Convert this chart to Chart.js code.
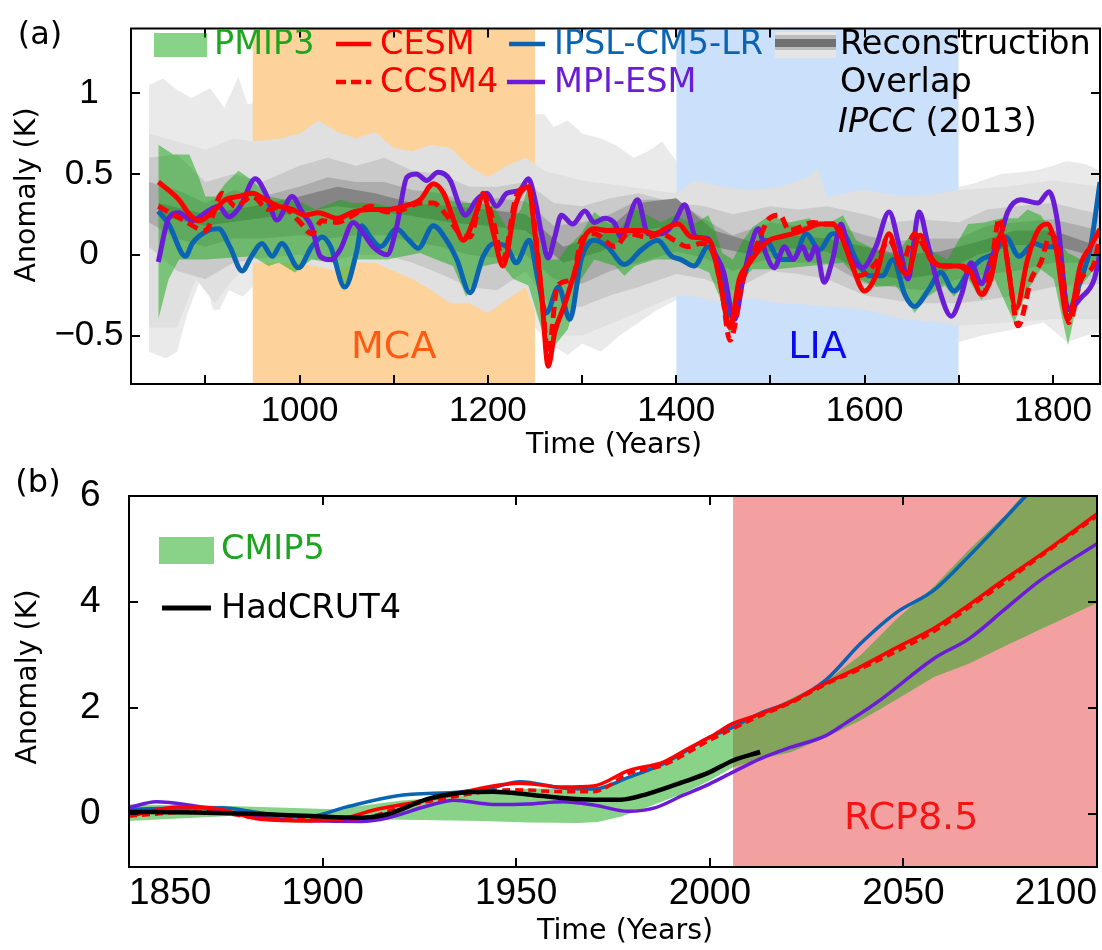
<!DOCTYPE html>
<html><head><meta charset="utf-8"><title>Temperature anomaly</title>
<script src="https://cdn.jsdelivr.net/npm/chart.js@4.4.1/dist/chart.umd.min.js"></script>
<style>
html,body{margin:0;padding:0;background:#fff;}
#wrap{position:relative;width:1102px;height:950px;overflow:hidden;background:#fff;}
#ca{position:absolute;left:0;top:0;}
#cb{position:absolute;left:0;top:440px;}
</style></head><body>
<div id="wrap"><canvas id="ca" width="1102" height="470"></canvas><canvas id="cb" width="1102" height="510"></canvas></div>
<script>
const FONT = "'Liberation Sans', Arial, Helvetica, sans-serif";
const TFONT = "'DejaVu Sans', 'Liberation Sans', Arial, sans-serif";

// ---------------- Panel (a): last millennium ----------------
const xLimA = [821, 1850];
const yLimA = [-0.8, 1.4];
const xTickMarksA = [900, 1000, 1100, 1200, 1300, 1400, 1500, 1600, 1700, 1800];
const xTickLabelsA = [1000, 1200, 1400, 1600, 1800];
const yTicksA = [-0.5, 0, 0.5, 1];
const mcaSpan = [950, 1250];
const liaSpan = [1400, 1700];
const seriesNamesA = ['PMIP3', 'CESM', 'CCSM4', 'IPSL-CM5-LR', 'MPI-ESM'];

const cesmA = [[850,0.45],[861,0.40],[872,0.34],[883,0.25],[893,0.21],[907,0.26],[921,0.34],[935,0.36],[950,0.38],[964,0.34],[978,0.30],[992,0.28],[1006,0.245],[1020,0.26],[1040,0.225],[1057,0.265],[1075,0.28],[1093,0.28],[1110,0.30],[1128,0.34],[1142,0.44],[1153,0.38],[1163,0.225],[1174,0.09],[1184,0.20],[1195,0.36],[1206,0.13],[1216,-0.07],[1230,0.32],[1243,0.42],[1250,0.13],[1257,-0.245],[1264,-0.69],[1271,-0.48],[1282,-0.30],[1292,-0.11],[1303,0.11],[1313,0.16],[1327,0.15],[1345,0.15],[1363,0.15],[1377,0.13],[1391,0.17],[1402,0.19],[1416,0.11],[1435,0.09],[1446,-0.15],[1457,-0.45],[1467,-0.15],[1478,-0.05],[1488,0.03],[1499,0.09],[1510,0.11],[1524,0.13],[1538,0.16],[1552,0.19],[1566,0.19],[1577,0.09],[1587,-0.07],[1600,-0.225],[1612,-0.13],[1626,0.13],[1637,-0.07],[1645,-0.12],[1659,0.12],[1670,-0.03],[1688,-0.07],[1703,-0.07],[1713,-0.11],[1724,-0.245],[1734,-0.15],[1745,0.13],[1761,-0.33],[1773,-0.03],[1784,0.15],[1794,0.19],[1803,0.05],[1816,-0.40],[1830,-0.05],[1840,0.05],[1850,0.16]];

const ccsm4A = [[850,0.30],[875,0.22],[900,0.15],[918,0.38],[932,0.30],[950,0.36],[967,0.28],[981,0.30],[999,0.21],[1013,0.13],[1024,0.21],[1040,0.20],[1057,0.245],[1075,0.30],[1093,0.265],[1110,0.28],[1128,0.32],[1142,0.32],[1156,0.245],[1170,0.13],[1181,0.11],[1195,0.38],[1206,0.20],[1216,-0.03],[1230,0.36],[1243,0.42],[1252,0.05],[1258,-0.30],[1264,-0.61],[1274,-0.19],[1290,-0.15],[1299,0.09],[1313,0.13],[1335,0.05],[1349,0.13],[1370,0.11],[1384,0.13],[1398,0.09],[1412,0.05],[1426,0.07],[1440,0.0],[1449,-0.25],[1457,-0.53],[1471,-0.15],[1485,0.05],[1499,0.225],[1510,0.245],[1520,0.15],[1531,0.17],[1545,0.20],[1559,0.19],[1570,0.19],[1580,0.05],[1594,-0.13],[1612,-0.05],[1626,0.09],[1640,-0.05],[1653,0.13],[1667,0.01],[1681,-0.07],[1699,-0.07],[1713,-0.13],[1726,-0.245],[1736,0.0],[1743,0.225],[1752,-0.05],[1763,-0.44],[1777,-0.15],[1787,-0.05],[1798,0.13],[1809,-0.05],[1817,-0.42],[1830,-0.15],[1844,-0.05],[1850,0.13]];

const ipslA = [[850,0.27],[861,0.19],[879,-0.01],[886,0.07],[903,0.15],[914,0.16],[926,0.05],[939,-0.10],[949,-0.01],[960,0.07],[971,-0.01],[981,0.07],[999,-0.08],[1013,0.05],[1024,0.11],[1033,0.05],[1048,-0.20],[1061,0.03],[1066,0.18],[1075,0.11],[1086,0.05],[1103,0.16],[1116,0.09],[1126,0.04],[1142,0.18],[1156,0.09],[1167,-0.03],[1181,-0.235],[1195,-0.01],[1206,0.07],[1220,0.05],[1230,-0.05],[1244,0.09],[1253,-0.15],[1262,-0.36],[1275,-0.20],[1287,-0.40],[1299,-0.03],[1313,0.09],[1327,0.05],[1345,-0.06],[1363,0.03],[1380,0.09],[1395,-0.01],[1405,-0.03],[1419,-0.07],[1434,0.05],[1446,-0.11],[1458,-0.38],[1471,-0.15],[1481,0.01],[1495,0.09],[1510,-0.03],[1524,-0.03],[1538,0.13],[1552,0.03],[1566,0.13],[1577,0.13],[1591,-0.03],[1605,-0.13],[1619,-0.13],[1630,-0.03],[1643,-0.25],[1653,-0.32],[1667,-0.225],[1681,-0.11],[1695,-0.225],[1710,-0.11],[1724,-0.03],[1738,0.01],[1750,0.11],[1764,-0.01],[1780,0.07],[1791,0.05],[1805,0.05],[1816,-0.34],[1830,-0.15],[1840,0.05],[1850,0.45]];

const mpiA = [[850,-0.045],[861,0.225],[872,0.26],[886,0.21],[900,0.26],[914,0.30],[925,0.235],[937,0.30],[953,0.47],[964,0.38],[976,0.215],[992,0.36],[1003,0.26],[1013,0.17],[1022,-0.01],[1033,-0.03],[1043,0.03],[1057,0.20],[1068,0.13],[1078,0.05],[1093,0.0],[1103,0.17],[1114,0.48],[1124,0.50],[1135,0.46],[1147,0.51],[1160,0.46],[1170,0.30],[1176,0.245],[1188,0.34],[1199,0.38],[1209,0.30],[1220,0.38],[1234,0.40],[1243,0.47],[1250,0.34],[1257,0.13],[1264,-0.02],[1271,0.11],[1278,0.245],[1290,0.19],[1303,0.27],[1313,0.20],[1324,0.225],[1335,0.19],[1341,0.11],[1359,0.34],[1370,0.13],[1384,0.13],[1398,0.20],[1409,0.31],[1421,0.11],[1434,0.10],[1441,0.01],[1450,-0.10],[1462,-0.40],[1471,-0.15],[1481,0.09],[1487,0.16],[1495,0.01],[1504,-0.08],[1515,0.05],[1524,-0.03],[1534,0.05],[1541,-0.03],[1548,0.05],[1557,-0.17],[1566,-0.03],[1575,0.19],[1584,0.01],[1598,-0.08],[1612,0.05],[1626,0.265],[1637,0.05],[1646,-0.15],[1658,0.265],[1667,0.07],[1678,-0.19],[1692,-0.38],[1703,-0.245],[1713,-0.05],[1724,-0.18],[1734,-0.03],[1745,0.13],[1752,0.265],[1766,0.34],[1784,0.32],[1796,0.39],[1805,0.20],[1816,-0.34],[1830,-0.265],[1844,-0.15],[1850,0.01]];

const pmipUpperA = [[850,0.68],[866,0.62],[883,0.62],[893,0.48],[900,0.36],[911,0.36],[921,0.44],[935,0.52],[950,0.46],[967,0.36],[985,0.34],[1003,0.32],[1017,0.28],[1043,0.34],[1057,0.32],[1078,0.32],[1093,0.30],[1121,0.30],[1142,0.44],[1156,0.34],[1174,0.32],[1191,0.32],[1206,0.30],[1220,0.17],[1235,0.28],[1243,0.42],[1250,0.17],[1257,0.05],[1264,-0.03],[1275,-0.03],[1285,0.05],[1299,0.13],[1313,0.265],[1327,0.20],[1341,0.17],[1356,0.28],[1370,0.245],[1384,0.20],[1398,0.245],[1419,0.19],[1434,0.245],[1440,0.17],[1449,0.01],[1460,-0.03],[1471,0.09],[1481,0.17],[1499,0.245],[1520,0.20],[1541,0.225],[1555,0.17],[1577,0.245],[1591,0.09],[1605,0.05],[1619,0.01],[1633,0.0],[1650,0.13],[1660,0.13],[1674,0.01],[1688,-0.03],[1710,0.19],[1727,0.20],[1745,0.225],[1763,0.225],[1773,0.28],[1787,0.245],[1801,0.13],[1816,0.01],[1830,-0.03],[1850,0.01]];
const pmipLowerA = [[850,-0.40],[861,-0.15],[872,-0.03],[900,-0.03],[950,-0.01],[967,-0.07],[978,-0.05],[995,-0.11],[1013,-0.03],[1036,-0.05],[1048,-0.19],[1061,-0.03],[1093,-0.03],[1128,0.01],[1145,-0.03],[1163,-0.07],[1177,-0.26],[1195,-0.07],[1213,-0.05],[1227,-0.15],[1243,-0.19],[1253,-0.38],[1264,-0.60],[1274,-0.54],[1285,-0.46],[1299,-0.15],[1313,-0.03],[1335,-0.07],[1345,-0.13],[1356,-0.07],[1377,-0.03],[1398,-0.03],[1419,-0.07],[1435,-0.11],[1446,-0.26],[1457,-0.50],[1471,-0.15],[1481,-0.09],[1506,-0.09],[1541,-0.07],[1577,-0.05],[1594,-0.15],[1612,-0.20],[1633,-0.19],[1647,-0.30],[1653,-0.36],[1667,-0.26],[1685,-0.19],[1695,-0.26],[1710,-0.15],[1724,-0.28],[1738,-0.15],[1759,-0.42],[1773,-0.22],[1787,-0.09],[1801,-0.15],[1816,-0.56],[1830,-0.19],[1844,-0.09],[1850,-0.05]];

// reconstruction overlap (IPCC 2013), grey levels from light to dark
const reconAUpper = [[840,1.05],[855,1.09],[870,1.02],[885,0.97],[905,1.03],[920,0.91],[935,1.10],[945,0.93],[960,0.95],[1100,0.90],[1240,0.87],[1260,0.87],[1270,0.79],[1285,0.83],[1300,0.75],[1320,0.72],[1335,0.68],[1355,0.60],[1370,0.64],[1385,0.70],[1400,0.58],[1550,0.60],[1690,0.45],[1700,0.42],[1715,0.44],[1745,0.50],[1780,0.52],[1800,0.55],[1815,0.58],[1835,0.56],[1850,0.52]];
const reconALower = [[840,-0.60],[858,-0.64],[870,-0.60],[880,-0.38],[893,-0.18],[900,-0.15],[908,-0.34],[915,-0.34],[925,-0.22],[940,-0.26],[950,-0.20],[1100,-0.40],[1250,-0.45],[1265,-0.55],[1285,-0.62],[1300,-0.55],[1320,-0.60],[1340,-0.50],[1360,-0.42],[1380,-0.34],[1400,-0.28],[1550,-0.35],[1700,-0.54],[1725,-0.50],[1760,-0.46],[1790,-0.42],[1815,-0.54],[1835,-0.50],[1850,-0.48]];
const reconBUpper = [[840,0.75],[870,0.70],[900,0.65],[930,0.72],[950,0.70],[980,0.72],[1000,0.75],[1020,0.83],[1040,0.76],[1060,0.72],[1080,0.76],[1100,0.66],[1120,0.64],[1140,0.68],[1160,0.66],[1180,0.55],[1200,0.48],[1220,0.55],[1240,0.60],[1260,0.52],[1300,0.46],[1350,0.42],[1400,0.38],[1420,0.46],[1450,0.42],[1480,0.40],[1510,0.42],[1540,0.48],[1550,0.54],[1560,0.36],[1600,0.40],[1640,0.36],[1680,0.38],[1700,0.40],[1750,0.42],[1800,0.46],[1850,0.42]];
const reconBLower = [[840,-0.45],[870,-0.45],[890,-0.15],[910,-0.30],[930,-0.15],[950,-0.05],[1000,-0.05],[1040,-0.10],[1060,-0.05],[1080,-0.05],[1100,-0.10],[1120,-0.15],[1140,-0.22],[1160,-0.30],[1180,-0.30],[1200,-0.36],[1220,-0.28],[1240,-0.20],[1260,-0.50],[1300,-0.50],[1350,-0.38],[1400,-0.25],[1420,-0.26],[1450,-0.30],[1480,-0.27],[1510,-0.30],[1540,-0.31],[1560,-0.32],[1600,-0.34],[1640,-0.40],[1680,-0.42],[1700,-0.44],[1750,-0.42],[1800,-0.40],[1850,-0.40]];
const reconCUpper = [[840,0.60],[870,0.62],[900,0.45],[930,0.50],[960,0.45],[1000,0.55],[1030,0.60],[1060,0.55],[1090,0.60],[1120,0.52],[1150,0.50],[1180,0.42],[1210,0.42],[1240,0.45],[1270,0.32],[1300,0.30],[1330,0.35],[1360,0.38],[1400,0.32],[1430,0.30],[1460,0.25],[1500,0.30],[1530,0.28],[1560,0.30],[1600,0.25],[1630,0.20],[1660,0.22],[1700,0.20],[1730,0.28],[1760,0.30],[1800,0.32],[1850,0.25]];
const reconCLower = [[840,0.05],[870,-0.10],[900,-0.15],[930,-0.05],[960,-0.02],[1000,0.0],[1030,-0.05],[1060,0.0],[1090,0.0],[1120,-0.05],[1150,-0.12],[1180,-0.20],[1210,-0.22],[1240,-0.10],[1270,-0.35],[1300,-0.32],[1330,-0.25],[1360,-0.20],[1400,-0.12],[1430,-0.15],[1460,-0.22],[1500,-0.10],[1530,-0.12],[1560,-0.15],[1600,-0.25],[1630,-0.28],[1660,-0.30],[1700,-0.30],[1730,-0.28],[1760,-0.25],[1800,-0.20],[1850,-0.18]];
const reconDUpper = [[840,0.45],[870,0.40],[900,0.32],[930,0.40],[960,0.36],[1000,0.42],[1030,0.48],[1060,0.45],[1090,0.45],[1120,0.40],[1150,0.38],[1180,0.32],[1210,0.35],[1240,0.33],[1270,0.18],[1300,0.20],[1330,0.25],[1360,0.34],[1400,0.34],[1430,0.22],[1460,0.12],[1500,0.20],[1530,0.18],[1560,0.20],[1600,0.12],[1630,0.08],[1660,0.10],[1700,0.10],[1730,0.18],[1760,0.20],[1800,0.22],[1850,0.15]];
const reconDLower = [[840,0.20],[870,0.10],[900,0.05],[930,0.10],[960,0.10],[1000,0.12],[1030,0.10],[1060,0.12],[1090,0.12],[1120,0.08],[1150,0.05],[1180,0.0],[1210,-0.02],[1240,0.0],[1270,-0.15],[1300,-0.18],[1330,-0.10],[1360,-0.05],[1400,0.02],[1430,-0.02],[1460,-0.10],[1500,-0.02],[1530,-0.05],[1560,-0.05],[1600,-0.18],[1630,-0.20],[1660,-0.22],[1700,-0.15],[1730,-0.12],[1760,-0.10],[1800,-0.05],[1850,-0.05]];
const reconEUpper = [[850,0.32],[900,0.25],[950,0.30],[1000,0.36],[1040,0.42],[1080,0.38],[1120,0.32],[1160,0.30],[1200,0.28],[1240,0.25],[1280,0.05],[1320,0.12],[1360,0.32],[1400,0.35],[1440,0.15],[1480,0.08],[1520,0.12],[1560,0.10],[1600,0.05],[1640,0.0],[1680,0.02],[1720,0.08],[1760,0.15],[1800,0.15],[1850,0.05]];
const reconELower = [[850,0.24],[900,0.18],[950,0.22],[1000,0.26],[1040,0.30],[1080,0.27],[1120,0.24],[1160,0.20],[1200,0.18],[1240,0.15],[1280,-0.05],[1320,0.02],[1360,0.15],[1400,0.18],[1440,0.05],[1480,0.0],[1520,0.04],[1560,0.02],[1600,-0.12],[1640,-0.15],[1680,-0.12],[1720,0.0],[1760,0.06],[1800,0.06],[1850,-0.02]];

// ---------------- Panel (b): historical + RCP8.5 ----------------
const xLimB = [1850, 2100];
const yLimB = [-1, 6];
const xTicksB = [1850, 1900, 1950, 2000, 2050, 2100];
const yTicksB = [0, 2, 4, 6];
const rcpSpan = [2006, 2100];
const seriesNamesB = ['CMIP5', 'HadCRUT4'];

const hadcrutB = [[1850,0.04],[1867,0.03],[1884,0.0],[1897,-0.04],[1910,-0.07],[1917,0.0],[1927,0.28],[1936,0.40],[1944,0.42],[1953,0.37],[1962,0.30],[1970,0.27],[1977,0.27],[1984,0.38],[1993,0.60],[2000,0.79],[2006,1.01],[2013,1.17]];
const cesmB = [[1850,-0.04],[1863,0.13],[1872,0.11],[1884,-0.10],[1897,-0.13],[1906,-0.07],[1914,0.09],[1923,0.21],[1932,0.34],[1944,0.53],[1951,0.58],[1962,0.51],[1970,0.53],[1979,0.82],[1988,0.98],[1995,1.26],[2000,1.45],[2006,1.71],[2012,1.86],[2021,2.12],[2028,2.40],[2039,2.78],[2048,3.13],[2058,3.51],[2067,3.95],[2076,4.42],[2085,4.87],[2100,5.66]];
const ccsm4B = [[1850,-0.04],[1870,0.05],[1884,-0.08],[1900,-0.10],[1910,-0.08],[1920,0.12],[1932,0.30],[1949,0.46],[1962,0.42],[1970,0.42],[1979,0.76],[1988,0.92],[2000,1.39],[2006,1.61],[2013,1.85],[2021,2.10],[2030,2.45],[2039,2.74],[2048,3.06],[2058,3.45],[2067,3.90],[2076,4.36],[2085,4.84],[2100,5.62]];
const ipslB = [[1850,0.09],[1874,0.12],[1884,0.02],[1897,-0.04],[1906,0.13],[1919,0.34],[1936,0.42],[1944,0.50],[1951,0.61],[1962,0.49],[1970,0.47],[1979,0.69],[1988,0.95],[2000,1.45],[2006,1.64],[2013,1.90],[2021,2.12],[2030,2.53],[2039,3.22],[2048,3.79],[2058,4.23],[2067,4.87],[2076,5.56],[2082,6.03],[2090,6.60]];
const mpiB = [[1850,0.12],[1857,0.23],[1867,0.15],[1876,0.03],[1889,-0.10],[1910,-0.14],[1917,-0.07],[1927,0.15],[1934,0.26],[1944,0.18],[1953,0.19],[1962,0.23],[1970,0.17],[1979,0.05],[1986,0.12],[1993,0.35],[2000,0.57],[2006,0.79],[2013,1.04],[2021,1.26],[2030,1.48],[2035,1.71],[2044,2.15],[2058,2.94],[2067,3.31],[2076,3.85],[2085,4.39],[2100,5.10]];
const cmipUpperB = [[1850,0.18],[1876,0.15],[1903,0.09],[1920,0.25],[1936,0.35],[1953,0.48],[1970,0.48],[1979,0.70],[1988,0.95],[2000,1.45],[2006,1.68],[2016,2.00],[2030,2.50],[2039,3.00],[2048,3.66],[2058,4.30],[2067,4.99],[2076,5.62],[2081,6.03],[2090,6.80],[2100,7.50]];
const cmipLowerB = [[1850,-0.13],[1876,-0.04],[1893,-0.17],[1913,-0.10],[1941,-0.13],[1953,-0.16],[1966,-0.17],[1971,-0.15],[1977,-0.05],[1984,0.13],[1993,0.38],[2000,0.63],[2006,0.88],[2013,1.04],[2021,1.17],[2030,1.45],[2039,1.77],[2048,2.15],[2058,2.59],[2067,2.84],[2076,3.16],[2085,3.47],[2100,3.98]];

// ---------------- helpers ----------------
const C = {
  green: 'rgba(20,167,20,0.5)', greenText: '#1ea51e',
  red: '#ff0000', blue: '#0a64b2', purple: '#6a1cd6', black: '#000000',
  mca: '#fed39b', lia: '#cae0fb', rcp: '#f2a0a0',
  gA: '#eaeaea', gB: '#e0e0e0', gC: '#cacaca', gD: '#adadad', gE: '#858585'
};
const pts = arr => arr.map(p => ({x: p[0], y: p[1]}));
const clear = 'rgba(0,0,0,0)';
function band(upper, lower, color, order) {
  return [
    {data: pts(upper), fill: '+1', backgroundColor: color, borderColor: clear, borderWidth: 0, pointRadius: 0, tension: 0, order},
    {data: pts(lower), fill: false, backgroundColor: clear, borderColor: clear, borderWidth: 0, pointRadius: 0, tension: 0, order}
  ];
}
function span(range, top, color, order) {
  return {data: [{x: range[0], y: top}, {x: range[1], y: top}], fill: 'start', backgroundColor: color,
    borderColor: clear, borderWidth: 0, pointRadius: 0, tension: 0, order};
}
function line(arr, color, width, order, dash) {
  return {data: pts(arr), fill: false, borderColor: color, borderWidth: width, borderDash: dash || [],
    pointRadius: 0, cubicInterpolationMode: 'monotone', order, borderCapStyle: 'butt', borderJoinStyle: 'round'};
}
const fmt = v => (v < 0 ? '\u2212' + String(Math.abs(v)) : String(v));

function scales(cfg) {
  return {
    x: {type: 'linear', min: cfg.xLim[0], max: cfg.xLim[1], grid: {display: false, drawTicks: false}, border: {display: false},
      afterBuildTicks: s => { s.ticks = cfg.xLabels.map(v => ({value: v})); },
      ticks: {padding: cfg.xPad, color: '#000', autoSkip: false, maxRotation: 0, align: cfg.xAlign || 'center',
        font: {family: FONT, size: cfg.tickSize}, callback: v => String(v)},
      afterFit: s => { s.height = cfg.xH; }},
    y: {type: 'linear', min: cfg.yLim[0], max: cfg.yLim[1], grid: {display: false, drawTicks: false}, border: {display: false},
      afterBuildTicks: s => { s.ticks = cfg.yTicks.map(v => ({value: v})); },
      ticks: {padding: cfg.yPad, crossAlign: 'center', color: '#000', autoSkip: false,
        font: {family: FONT, size: cfg.tickSize}, callback: v => fmt(v)},
      afterFit: s => { s.width = cfg.yW; }}
  };
}

function decoPlugin(cfg) {
  return {
    id: 'deco' + cfg.id,
    afterDraw(chart) {
      const {ctx, chartArea: a, scales: {x, y}} = chart;
      ctx.save();
      cfg.periodLabels.forEach(p => {
        ctx.font = p.size + 'px ' + TFONT; ctx.fillStyle = p.color;
        ctx.textAlign = 'center'; ctx.textBaseline = 'middle';
        ctx.fillText(p.text, x.getPixelForValue(p.x), y.getPixelForValue(p.y));
      });
      ctx.strokeStyle = '#000'; ctx.lineWidth = 2; ctx.setLineDash([]);
      ctx.beginPath();
      cfg.xMarks.forEach(v => {
        const px = Math.round(x.getPixelForValue(v));
        ctx.moveTo(px, a.bottom); ctx.lineTo(px, a.bottom - 9);
        ctx.moveTo(px, a.top); ctx.lineTo(px, a.top + 9);
      });
      cfg.yTicks.forEach(v => {
        const py = Math.round(y.getPixelForValue(v));
        ctx.moveTo(a.left, py); ctx.lineTo(a.left + 9, py);
        ctx.moveTo(a.right, py); ctx.lineTo(a.right - 9, py);
      });
      ctx.stroke();
      ctx.strokeRect(a.left, a.top, a.right - a.left, a.bottom - a.top);
      ctx.fillStyle = '#000'; ctx.textAlign = 'center'; ctx.textBaseline = 'middle';
      ctx.font = '28.5px ' + TFONT;
      ctx.fillText('Time (Years)', cfg.xTitle[0], cfg.xTitle[1]);
      ctx.save(); ctx.translate(cfg.yTitle[0], cfg.yTitle[1]); ctx.rotate(-Math.PI / 2);
      ctx.fillText('Anomaly (K)', 0, 0); ctx.restore();
      ctx.font = '32px ' + TFONT;
      ctx.fillText(cfg.panel, cfg.panelPos[0], cfg.panelPos[1]);
      cfg.legend(ctx);
      ctx.restore();
    }
  };
}
function legLine(ctx, x0, x1, yy, color, w, dash) {
  ctx.save(); ctx.strokeStyle = color; ctx.lineWidth = w; ctx.setLineDash(dash || []);
  ctx.beginPath(); ctx.moveTo(x0, yy); ctx.lineTo(x1, yy); ctx.stroke(); ctx.restore();
}
function legText(ctx, t, x0, yy, color, size, style) {
  ctx.font = (style ? style + ' ' : '') + size + 'px ' + TFONT; ctx.fillStyle = color;
  ctx.textAlign = 'left'; ctx.textBaseline = 'middle'; ctx.fillText(t, x0, yy);
  return ctx.measureText(t).width;
}

// ---------------- chart (a) ----------------
const dsA = [].concat(
  band(reconAUpper, reconALower, C.gA, 30),
  [span(mcaSpan, yLimA[1], C.mca, 29), span(liaSpan, yLimA[1], C.lia, 29)],
  band(reconBUpper, reconBLower, C.gB, 28),
  band(reconCUpper, reconCLower, C.gC, 27),
  band(reconDUpper, reconDLower, C.gD, 26),
  band(reconEUpper, reconELower, C.gE, 25),
  band(pmipUpperA, pmipLowerA, C.green, 20),
  [line(ipslA, C.blue, 5, 5), line(mpiA, C.purple, 5, 4), line(ccsm4A, C.red, 5, 3, [11, 6]), line(cesmA, C.red, 5, 2)]
);

const legendA = ctx => {
  ctx.fillStyle = C.green; ctx.fillRect(154, 33, 53, 24);
  legText(ctx, seriesNamesA[0], 214, 45, C.greenText, 33.5);
  legLine(ctx, 336, 371, 44, C.red, 4.5);
  legText(ctx, seriesNamesA[1], 380, 45, C.red, 33.5);
  legLine(ctx, 336, 371, 82, C.red, 4.5, [10, 5]);
  legText(ctx, seriesNamesA[2], 380, 83, C.red, 33.5);
  legLine(ctx, 509, 545, 44, C.blue, 4.5);
  legText(ctx, seriesNamesA[3], 554, 45, C.blue, 33.5);
  legLine(ctx, 507, 545, 82, C.purple, 4.5);
  legText(ctx, seriesNamesA[4], 554, 83, C.purple, 33.5);
  ctx.fillStyle = '#e6e6e6'; ctx.fillRect(775, 32, 61, 26);
  ctx.fillStyle = '#bdbdbd'; ctx.fillRect(775, 35, 61, 15);
  ctx.fillStyle = '#707070'; ctx.fillRect(775, 39, 61, 8);
  legText(ctx, 'Reconstruction', 840, 45, '#000', 33.5);
  legText(ctx, 'Overlap', 840, 83, '#000', 33.5);
  const w = legText(ctx, 'IPCC', 838, 123, '#000', 33.5, 'italic');
  legText(ctx, ' (2013)', 838 + w, 123, '#000', 33.5);
};

new Chart(document.getElementById('ca'), {
  type: 'line',
  data: {datasets: dsA},
  options: {
    responsive: false, devicePixelRatio: 1, animation: false, events: [],
    layout: {padding: {top: 11, right: 2, left: 0, bottom: 0}},
    plugins: {legend: {display: false}, tooltip: {enabled: false}},
    scales: scales({xLim: xLimA, yLim: yLimA, xLabels: xTickLabelsA, yTicks: yTicksA, xPad: 6, yPad: 7.5, tickSize: 35, xH: 86, yW: 131})
  },
  plugins: [decoPlugin({
    id: 'A', xMarks: xTickMarksA, yTicks: yTicksA, xTitle: [614, 446], yTitle: [28, 195], panel: '(a)', panelPos: [40, 36],
    periodLabels: [
      {text: 'MCA', x: (mcaSpan[0] + mcaSpan[1]) / 2, y: -0.58, color: '#ff5a14', size: 38},
      {text: 'LIA', x: (liaSpan[0] + liaSpan[1]) / 2, y: -0.58, color: '#0a0af0', size: 38}
    ],
    legend: legendA
  })]
});

// ---------------- chart (b) ----------------
const dsB = [].concat(
  [span(rcpSpan, yLimB[1], C.rcp, 30)],
  band(cmipUpperB, cmipLowerB, C.green, 20),
  [line(ipslB, C.blue, 3.5, 6), line(mpiB, C.purple, 3.5, 5), line(ccsm4B, C.red, 3.5, 4, [8, 5]), line(cesmB, C.red, 3.5, 3),
   line(hadcrutB, C.black, 4.5, 1)]
);
const legendB = ctx => {
  ctx.fillStyle = C.green; ctx.fillRect(159, 97, 55, 27);
  legText(ctx, seriesNamesB[0], 221, 110, C.greenText, 33.5);
  legLine(ctx, 162, 211, 168, '#000', 5);
  legText(ctx, seriesNamesB[1], 221, 169, '#000', 33.5);
};
new Chart(document.getElementById('cb'), {
  type: 'line',
  data: {datasets: dsB},
  options: {
    responsive: false, devicePixelRatio: 1, animation: false, events: [],
    layout: {padding: {top: 56, right: 2, left: 0, bottom: 0}},
    plugins: {legend: {display: false}, tooltip: {enabled: false}},
    scales: scales({xLim: xLimB, yLim: yLimB, xLabels: xTicksB, yTicks: yTicksB, xPad: 5, yPad: 28.5, tickSize: 37, xH: 83, yW: 129, xAlign: 'inner'})
  },
  plugins: [decoPlugin({
    id: 'B', xMarks: xTicksB, yTicks: yTicksB, xTitle: [625, 492], yTitle: [29, 237], panel: '(b)', panelPos: [38, 44],
    periodLabels: [{text: 'RCP8.5', x: 2052, y: -0.1, color: '#f41414', size: 38}],
    legend: legendB
  })]
});
</script>
</body></html>
